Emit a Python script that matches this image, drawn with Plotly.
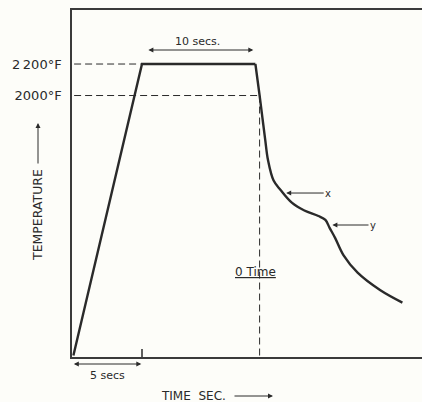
import plotly.graph_objects as go

# ---- data (time in seconds, temperature in °F) ----
heat_time = [0.1, 5.0, 13.1]
heat_temp = [350, 2200, 2200]

cool_time = [13.1, 13.4, 13.6, 13.8, 14.0, 14.4, 14.9, 15.7, 16.6, 17.6, 18.1,
             18.4, 18.8, 19.4, 20.4, 22.0, 23.6]
cool_temp = [2200, 2000, 1860, 1720, 1590, 1460, 1400, 1320, 1270, 1235, 1210,
             1160, 1095, 985, 875, 765, 685]

level_vals = [2000, 2200]
level_labels = ["2000°F", "2\u2009200°F"]

zero_time = 13.4          # "0 Time" (quench start, at 2000°F)
hold_start, hold_end = 5.0, 13.1
x_point = (15.3, 1381)    # point marked "x"
y_point = (18.6, 1178)    # point marked "y"

X_RANGE = [0, 25]
Y_RANGE = [340, 2543]

INK = "#2a2a2a"
FONT = "DejaVu Sans"

fig = go.Figure()
fig.add_trace(go.Scatter(x=heat_time, y=heat_temp, mode="lines",
                         line=dict(color=INK, width=2.4), hoverinfo="skip"))
fig.add_trace(go.Scatter(x=cool_time, y=cool_temp, mode="lines",
                         line=dict(color=INK, width=2.4, shape="spline", smoothing=1.0),
                         hoverinfo="skip"))

dash = "7px,4px"
shapes = [
    dict(type="line", xref="x", yref="y", x0=0.15, x1=4.9, y0=level_vals[1], y1=level_vals[1],
         line=dict(color=INK, width=1, dash=dash)),
    dict(type="line", xref="x", yref="y", x0=0.15, x1=zero_time, y0=level_vals[0], y1=level_vals[0],
         line=dict(color=INK, width=1, dash=dash)),
    dict(type="line", xref="x", yref="y", x0=zero_time, x1=zero_time, y0=level_vals[0], y1=Y_RANGE[0],
         line=dict(color=INK, width=1, dash=dash)),
    dict(type="line", xref="x", yref="y", x0=hold_start, x1=hold_start, y0=Y_RANGE[0], y1=390,
         line=dict(color=INK, width=1.5)),
]

def py(px):  # figure pixel row -> paper fraction
    return 1 - px / 402.0

def pxx(px):
    return px / 422.0

C = dict(xanchor="center", yanchor="middle")
ARW = dict(showarrow=True, arrowhead=2, arrowsize=1, arrowwidth=1, arrowcolor=INK)

ann = []
# 10 secs double arrow
ann.append(dict(xref="x", yref="y", x=12.95, y=2289, axref="x", ayref="y", ax=5.35, ay=2289,
                text="", arrowside="end+start", **ARW))
ann.append(dict(xref="x", yref="y", x=8.95, y=2340, text="10 secs.", showarrow=False,
                font=dict(family=FONT, size=11, color=INK), **C))
# x and y markers
ann.append(dict(xref="x", yref="y", x=x_point[0], y=x_point[1], axref="x", ayref="y",
                ax=18.3, ay=x_point[1], text="x", font=dict(family=FONT, size=10, color=INK), **ARW))
ann.append(dict(xref="x", yref="y", x=y_point[0], y=y_point[1], axref="x", ayref="y",
                ax=21.5, ay=y_point[1], text="y", font=dict(family=FONT, size=10, color=INK), **ARW))
# 0 Time
ann.append(dict(xref="x", yref="y", x=zero_time - 0.3, y=879, text="<u>0 Time</u>",
                showarrow=False, font=dict(family=FONT, size=12, color=INK), **C))
# 5 secs
ann.append(dict(xref="x", yref="paper", x=hold_start - 0.05, y=py(364), ax=-69, ay=0,
                text="", arrowside="end+start", **ARW))
ann.append(dict(xref="x", yref="paper", x=2.5, y=py(375), text="5 secs", showarrow=False,
                font=dict(family=FONT, size=11, color=INK), **C))
# TIME SEC.
ann.append(dict(xref="paper", yref="paper", x=pxx(193), y=py(396), text="TIME\u00a0\u00a0SEC.",
                showarrow=False, font=dict(family=FONT, size=12, color=INK), **C))
ann.append(dict(xref="paper", yref="paper", x=pxx(273), y=py(396), ax=-40, ay=0, text="", **ARW))
# TEMPERATURE
ann.append(dict(xref="paper", yref="paper", x=pxx(38), y=py(215), text="TEMPERATURE",
                textangle=-90, showarrow=False, font=dict(family=FONT, size=12.5, color=INK), **C))
ann.append(dict(xref="paper", yref="paper", x=pxx(38), y=py(123), ax=0, ay=42, text="", **ARW))

fig.update_layout(
    width=422, height=402,
    margin=dict(l=0, r=0, t=0, b=0),
    paper_bgcolor="#fdfdf9", plot_bgcolor="#fdfdf9",
    showlegend=False,
    shapes=shapes, annotations=ann,
    xaxis=dict(domain=[72 / 422, 1], range=X_RANGE, showgrid=False, zeroline=False,
               showticklabels=False, ticks="", showline=True, linecolor="#3a3a3a",
               linewidth=1.5, mirror=True),
    yaxis=dict(domain=[45 / 402, 392 / 402], range=Y_RANGE, showgrid=False, zeroline=False,
               tickvals=level_vals, ticktext=level_labels, ticks="", ticklabelstandoff=6,
               tickfont=dict(family=FONT, size=13, color=INK),
               showline=True, linecolor="#3a3a3a", linewidth=1.5),
)

fig.write_html("out.html")
